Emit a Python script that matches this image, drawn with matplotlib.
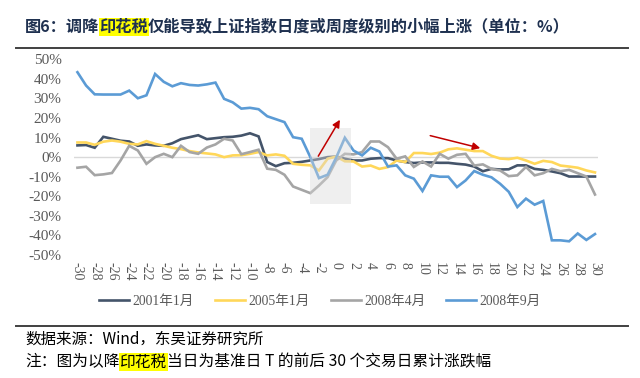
import matplotlib
matplotlib.use("Agg")
import matplotlib.pyplot as plt
from matplotlib.patches import Rectangle
from matplotlib.lines import Line2D

# ---------------- data ----------------
days = list(range(-30, 31))

s2001_01 = [6.0, 6.2, 4.8, 10.4, 9.4, 8.4, 8.0, 5.8, 6.5, 6.0,
            5.8, 7.1, 9.2, 10.2, 11.2, 9.2, 9.7, 10.2, 10.4, 11.0,
            12.2, 10.6, -2.5, -4.6, -3.1, -2.9, -2.4, -1.7, -1.0, 0.0,
            0.3, -0.8, -1.7, -1.7, -0.8, -0.5, -0.5, -1.7, -2.5, -3.0,
            -2.7, -2.7, -2.9, -2.9, -3.4, -3.8, -4.8, -7.2, -6.0, -6.3,
            -6.2, -4.2, -4.2, -6.0, -6.5, -7.3, -8.2, -9.9, -9.9, -9.9,
            -9.9]

s2005_01 = [7.5, 7.5, 6.3, 7.9, 8.5, 7.9, 6.8, 6.5, 8.2, 6.8,
            5.8, 4.8, 4.1, 3.1, 2.4, 1.9, 1.4, 0.0, 0.9, 1.0,
            1.7, 2.6, 0.9, 1.4, 0.7, -3.4, -3.9, -4.2, -6.8, -0.8,
            0.3, -2.1, -2.2, -4.8, -4.3, -6.0, -5.1, -1.7, -2.5, 2.1,
            2.1, 1.6, 2.3, 4.0, 4.5, 3.8, 3.1, 3.1, 0.7, -0.7,
            -1.0, -0.3, -1.7, -3.4, -1.9, -2.5, -4.3, -4.8, -5.4, -6.8,
            -7.8]

s2008_04 = [-5.4, -4.9, -9.2, -8.8, -8.1, -1.7, 5.8, 3.4, -3.4, 0.0,
            1.7, 0.0, 5.8, 2.6, 1.7, 4.9, 6.5, 9.4, 8.5, 1.5,
            2.6, 3.8, -5.9, -6.5, -9.0, -15.0, -16.7, -18.4, -14.5, -10.2,
            -1.7, 1.7, 1.4, 2.6, 8.0, 8.0, 5.1, -0.8, 0.4, -5.0,
            -2.2, -4.8, 1.7, -0.8, 1.2, 1.7, -4.3, -3.7, -6.0, -6.8,
            -9.7, -9.3, -5.0, -9.3, -8.2, -6.0, -7.2, -6.5, -8.2, -9.9,
            -19.1]

s2008_09 = [43.4, 36.6, 32.1, 32.0, 32.0, 32.0, 34.0, 30.1, 31.6, 42.5,
            38.5, 36.2, 37.8, 36.9, 36.6, 37.2, 38.1, 29.8, 28.0, 24.8,
            25.2, 24.5, 20.9, 19.4, 17.9, 10.2, 9.4, 0.0, -10.7, -9.0,
            -0.2, 9.9, 3.4, 0.9, 4.8, 2.9, -4.8, -4.2, -9.3, -11.0,
            -17.3, -9.3, -10.0, -10.0, -15.3, -11.9, -7.1, -9.0, -10.3, -13.6,
            -17.7, -25.5, -21.2, -24.3, -22.4, -42.5, -42.5, -43.0, -39.0, -42.3,
            -39.3]

series_names = ["2001年1月", "2005年1月", "2008年4月", "2008年9月"]
series_values = [s2001_01, s2005_01, s2008_04, s2008_09]
series_colors = ["#44546A", "#FFD75A", "#A5A5A5", "#5B9BD5"]

y_ticks = list(range(-50, 51, 10))
x_ticks = list(range(-30, 31, 2))

title_parts = [("图6：调降", False), ("印花税", True),
               ("仅能导致上证指数日度或周度级别的小幅上涨（单位：%）", False)]
source_text = "数据来源：Wind，东吴证券研究所"
note_parts = [("注：图为以降", False), ("印花税", True),
              ("当日为基准日 T 的前后 30 个交易日累计涨跌幅", False)]

# ---------------- figure ----------------
W, H = 640, 378
fig = plt.figure(figsize=(W / 100, H / 100), dpi=100)
fig.patch.set_facecolor("white")

ax = fig.add_axes([74 / W, 1 - 255 / H, (598 - 74) / W, (255 - 59.3) / H])
ax.set_xlim(-30.4, 30.35)
ax.set_ylim(-50, 50)
for sp in ax.spines.values():
    sp.set_visible(False)
ax.axhline(0, color="#D9D9D9", lw=1.0, zorder=1)

for name, vals, col in zip(series_names, series_values, series_colors):
    ax.plot(days, vals, color=col, lw=1.9, label=name, zorder=2,
            solid_joinstyle="miter")

# shaded box (semi-transparent, on top of lines)
ax.add_patch(Rectangle((-3.04, -23.8), 1.68 + 3.04, 15.0 + 23.8,
                       facecolor="#D9D9D9", edgecolor="none", alpha=0.42,
                       zorder=3))

arrow_kw = dict(arrowstyle="-|>", color="#C00000", lw=1.1,
                mutation_scale=11, shrinkA=0, shrinkB=0)
ax.annotate("", xy=(0.43, 19.1), xytext=(-2.08, 0.5),
            arrowprops=arrow_kw, zorder=4)
ax.annotate("", xy=(16.7, 4.6), xytext=(10.9, 11.0),
            arrowprops=arrow_kw, zorder=4)

serif = ["Liberation Serif", "Noto Sans CJK SC"]
ax.set_yticks(y_ticks)
ax.set_yticklabels([f"{v}%" for v in y_ticks], fontfamily=serif,
                   fontsize=11, color="#595959")
ax.set_xticks(x_ticks)
ax.set_xticklabels([str(v) for v in x_ticks], fontfamily=serif,
                   fontsize=10, color="#595959", rotation=270)
ax.tick_params(axis="y", length=0, pad=9)
ax.tick_params(axis="x", length=0, pad=5)

handles = [Line2D([], [], color=c, lw=1.9) for c in series_colors]
fig.legend(handles, series_names, loc="center",
           bbox_to_anchor=(320 / W, 1 - 301.7 / H), ncol=4, frameon=False,
           prop={"family": serif, "size": 9.8}, labelcolor="#595959",
           handlelength=2.2, handletextpad=0.25, columnspacing=1.55)

# rules
fig.add_artist(Line2D([16 / W, 628 / W], [1 - 47.5 / H, 1 - 47.5 / H],
                      color="#404040", lw=1.4))
fig.add_artist(Line2D([16 / W, 628 / W], [1 - 325.7 / H, 1 - 325.7 / H],
                      color="#404040", lw=1.4))

renderer = fig.canvas.get_renderer()


def rich_text(x_px, y_px, parts, **kw):
    x = x_px
    for txt, hl in parts:
        extra = {}
        if hl:
            extra["bbox"] = dict(facecolor="#FFFF00", edgecolor="none", pad=0.6)
        t = fig.text(x / W, 1 - y_px / H, txt, ha="left", va="center",
                     **kw, **extra)
        bb = t.get_window_extent(renderer=renderer)
        x += bb.width


cjk = ["Noto Sans CJK SC", "DejaVu Sans"]
rich_text(25, 27, title_parts, fontfamily=cjk, fontsize=11.7,
          fontweight="bold", color="#1F3150")
fig.text(25 / W, 1 - 339 / H, source_text, ha="left", va="center",
         fontfamily=cjk, fontsize=11.2, color="black")
rich_text(25, 362, note_parts, fontfamily=cjk, fontsize=11.3, color="black")

fig.savefig("out.png", dpi=100)
